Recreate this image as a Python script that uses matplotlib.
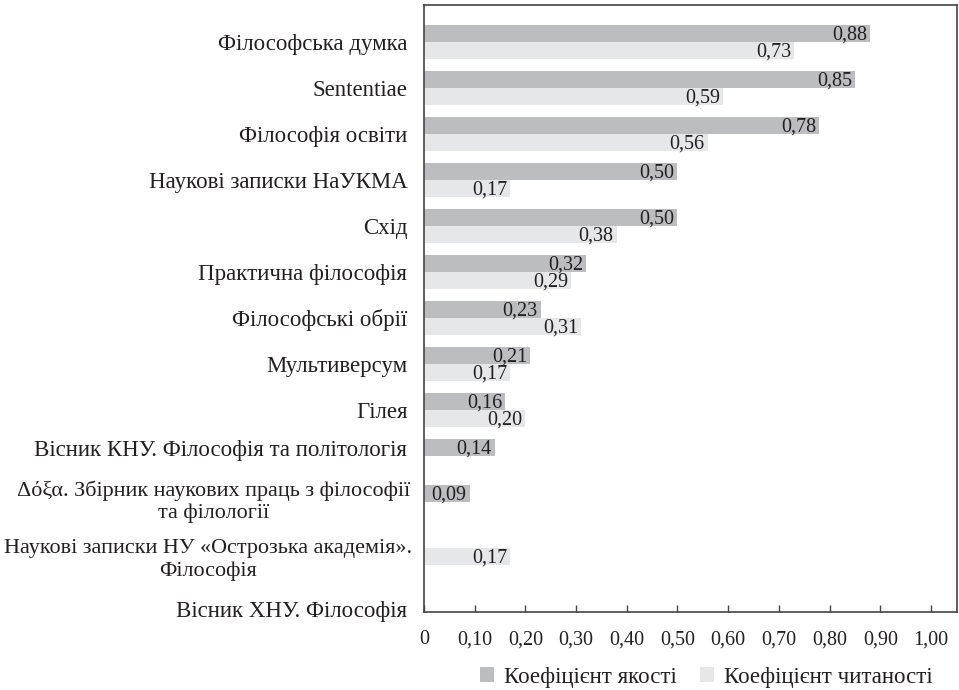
import matplotlib
matplotlib.use("Agg")
import matplotlib.pyplot as plt
import matplotlib.transforms as mtransforms
import numpy as np

plt.rcParams['font.family'] = ['Liberation Serif', 'DejaVu Serif']

categories = [
    "Філософська думка",
    "Sententiae",
    "Філософія освіти",
    "Наукові записки НаУКМА",
    "Схід",
    "Практична філософія",
    "Філософські обрії",
    "Мультиверсум",
    "Гілея",
    "Вісник КНУ. Філософія та політологія",
    "Δόξα. Збірник наукових праць з філософії\nта філології",
    "Наукові записки НУ «Острозька академія».\nФілософія",
    "Вісник ХНУ. Філософія",
]
quality = [0.88, 0.85, 0.78, 0.50, 0.50, 0.32, 0.23, 0.21, 0.16, 0.14, 0.09, None, None]
readability = [0.73, 0.59, 0.56, 0.17, 0.38, 0.29, 0.31, 0.17, 0.20, None, None, 0.17, None]
series_names = ["Коефіцієнт якості", "Коефіцієнт читаності"]
xticks = [0, 0.1, 0.2, 0.3, 0.4, 0.5, 0.6, 0.7, 0.8, 0.9, 1.0]
xticklabels = ["0", "0,10", "0,20", "0,30", "0,40", "0,50", "0,60", "0,70", "0,80", "0,90", "1,00"]

dark = "#bcbdc0"
light = "#e6e7e8"
textc = "#231f20"

fig = plt.figure(figsize=(9.59, 6.90), dpi=100)
ax = fig.add_axes([424/959, 1-612/690, (957-424)/959, (612-5)/690])

y = np.arange(len(categories))
h = 0.365
fs_val = 14.5
fs_cat = 16.5

for i, v in enumerate(quality):
    if v is not None:
        ax.barh(y[i] - h/2, v, height=h, color=dark, label=series_names[0] if i == 0 else None)
        ax.text(v - 0.006, y[i] - h/2 + 0.04, f"{v:.2f}".replace(".", ","), ha="right", va="center",
                fontsize=fs_val, color=textc)
for i, v in enumerate(readability):
    if v is not None:
        ax.barh(y[i] + h/2, v, height=h, color=light, label=series_names[1] if i == 0 else None)
        ax.text(v - 0.006, y[i] + h/2 + 0.04, f"{v:.2f}".replace(".", ","), ha="right", va="center",
                fontsize=fs_val, color=textc)

ax.set_xlim(0, (957-425)/506)
ax.set_ylim(12.39, -0.8)
ax.set_yticks(y)
ax.set_yticklabels(categories, fontsize=fs_cat, color=textc, ha="right", multialignment="center")
ax.tick_params(axis="y", length=0, pad=12)

# small nudges of the lower labels, as in the reference layout (pixels; x right, y down positive)
nudges_px = {9: (0, -8), 10: (3, -4), 11: (5, 8), 12: (0, 15)}
sizes = {10: 15.9, 11: 15.9}
for idx, lab in enumerate(ax.get_yticklabels()):
    if idx in nudges_px:
        dx, dy = nudges_px[idx]
        off = mtransforms.ScaledTranslation(dx / 100, -dy / 100, fig.dpi_scale_trans)
        lab.set_transform(lab.get_transform() + off)
    if idx in sizes:
        lab.set_fontsize(sizes[idx])

ax.set_xticks(xticks)
ax.set_xticklabels(xticklabels, fontsize=fs_val, color=textc)
ax.tick_params(axis="x", direction="in", length=5, width=1, color="#444444", pad=13)
for s in ax.spines.values():
    s.set_color("#444444")
    s.set_linewidth(1.2)

leg = fig.legend(loc="center", bbox_to_anchor=(706/959, 1-677/690), ncol=2, frameon=False,
                 fontsize=fs_cat, handlelength=0.62, handleheight=0.62, handletextpad=0.44,
                 columnspacing=1.0, labelcolor=textc)

fig.savefig("out.png", dpi=100)
